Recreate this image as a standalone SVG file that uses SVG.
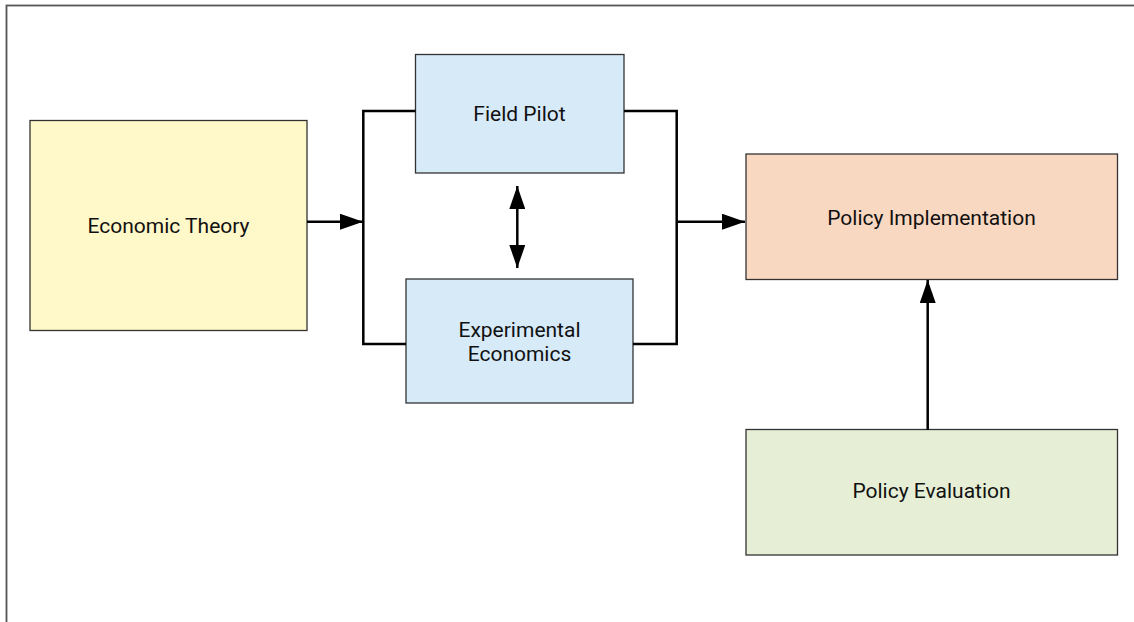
<svg xmlns="http://www.w3.org/2000/svg" width="1134" height="622" viewBox="0 0 1134 622">
  <style>
    .node rect { stroke: #333333; stroke-width: 1.3; }
    .node text { font-family: Roboto, "Liberation Sans", sans-serif; font-size: 21px; fill: #111111; text-anchor: middle; }
    .conn { fill: none; stroke: #000000; stroke-width: 2.5; }
  </style>
  <defs>
    <marker id="arrow" viewBox="0 0 23 16" refX="23" refY="8" markerWidth="23" markerHeight="16" markerUnits="userSpaceOnUse" orient="auto-start-reverse">
      <path d="M0,0 L23,8 L0,16 Z" fill="#000000"/>
    </marker>
  </defs>
  <rect x="0" y="0" width="1134" height="622" fill="#ffffff"/>
  <rect x="6.5" y="5.5" width="1200" height="700" fill="none" stroke="#555555" stroke-width="1.8"/>

  <g id="economic-theory" class="node">
    <rect x="30" y="120.5" width="277" height="210" fill="#FFF8C8"/>
    <text x="168.5" y="232.5">Economic Theory</text>
  </g>
  <g id="field-pilot" class="node">
    <rect x="415.5" y="54.5" width="208.5" height="118.5" fill="#D6EAF8"/>
    <text x="519.5" y="120.5">Field Pilot</text>
  </g>
  <g id="experimental-economics" class="node">
    <rect x="406" y="279" width="227" height="124" fill="#D6EAF8"/>
    <text x="519.5" y="336.5">Experimental</text>
    <text x="519.5" y="361">Economics</text>
  </g>
  <g id="policy-implementation" class="node">
    <rect x="746" y="154" width="371.5" height="125.5" fill="#F9D8C1"/>
    <text x="931.5" y="225">Policy Implementation</text>
  </g>
  <g id="policy-evaluation" class="node">
    <rect x="746" y="429.5" width="371.5" height="125.5" fill="#E6EFD6"/>
    <text x="931.5" y="498">Policy Evaluation</text>
  </g>

  <g id="connectors">
    <path class="conn" d="M415.5,111 H363.3 V344 H406"/>
    <path class="conn" d="M624,111 H676.7 V344 H633"/>
    <path class="conn" d="M307,221.7 H363" marker-end="url(#arrow)"/>
    <path class="conn" d="M676.7,221.7 H745" marker-end="url(#arrow)"/>
    <path class="conn" d="M517.3,186 V268" marker-start="url(#arrow)" marker-end="url(#arrow)"/>
    <path class="conn" d="M927.7,430 V280" marker-end="url(#arrow)"/>
  </g>
</svg>
